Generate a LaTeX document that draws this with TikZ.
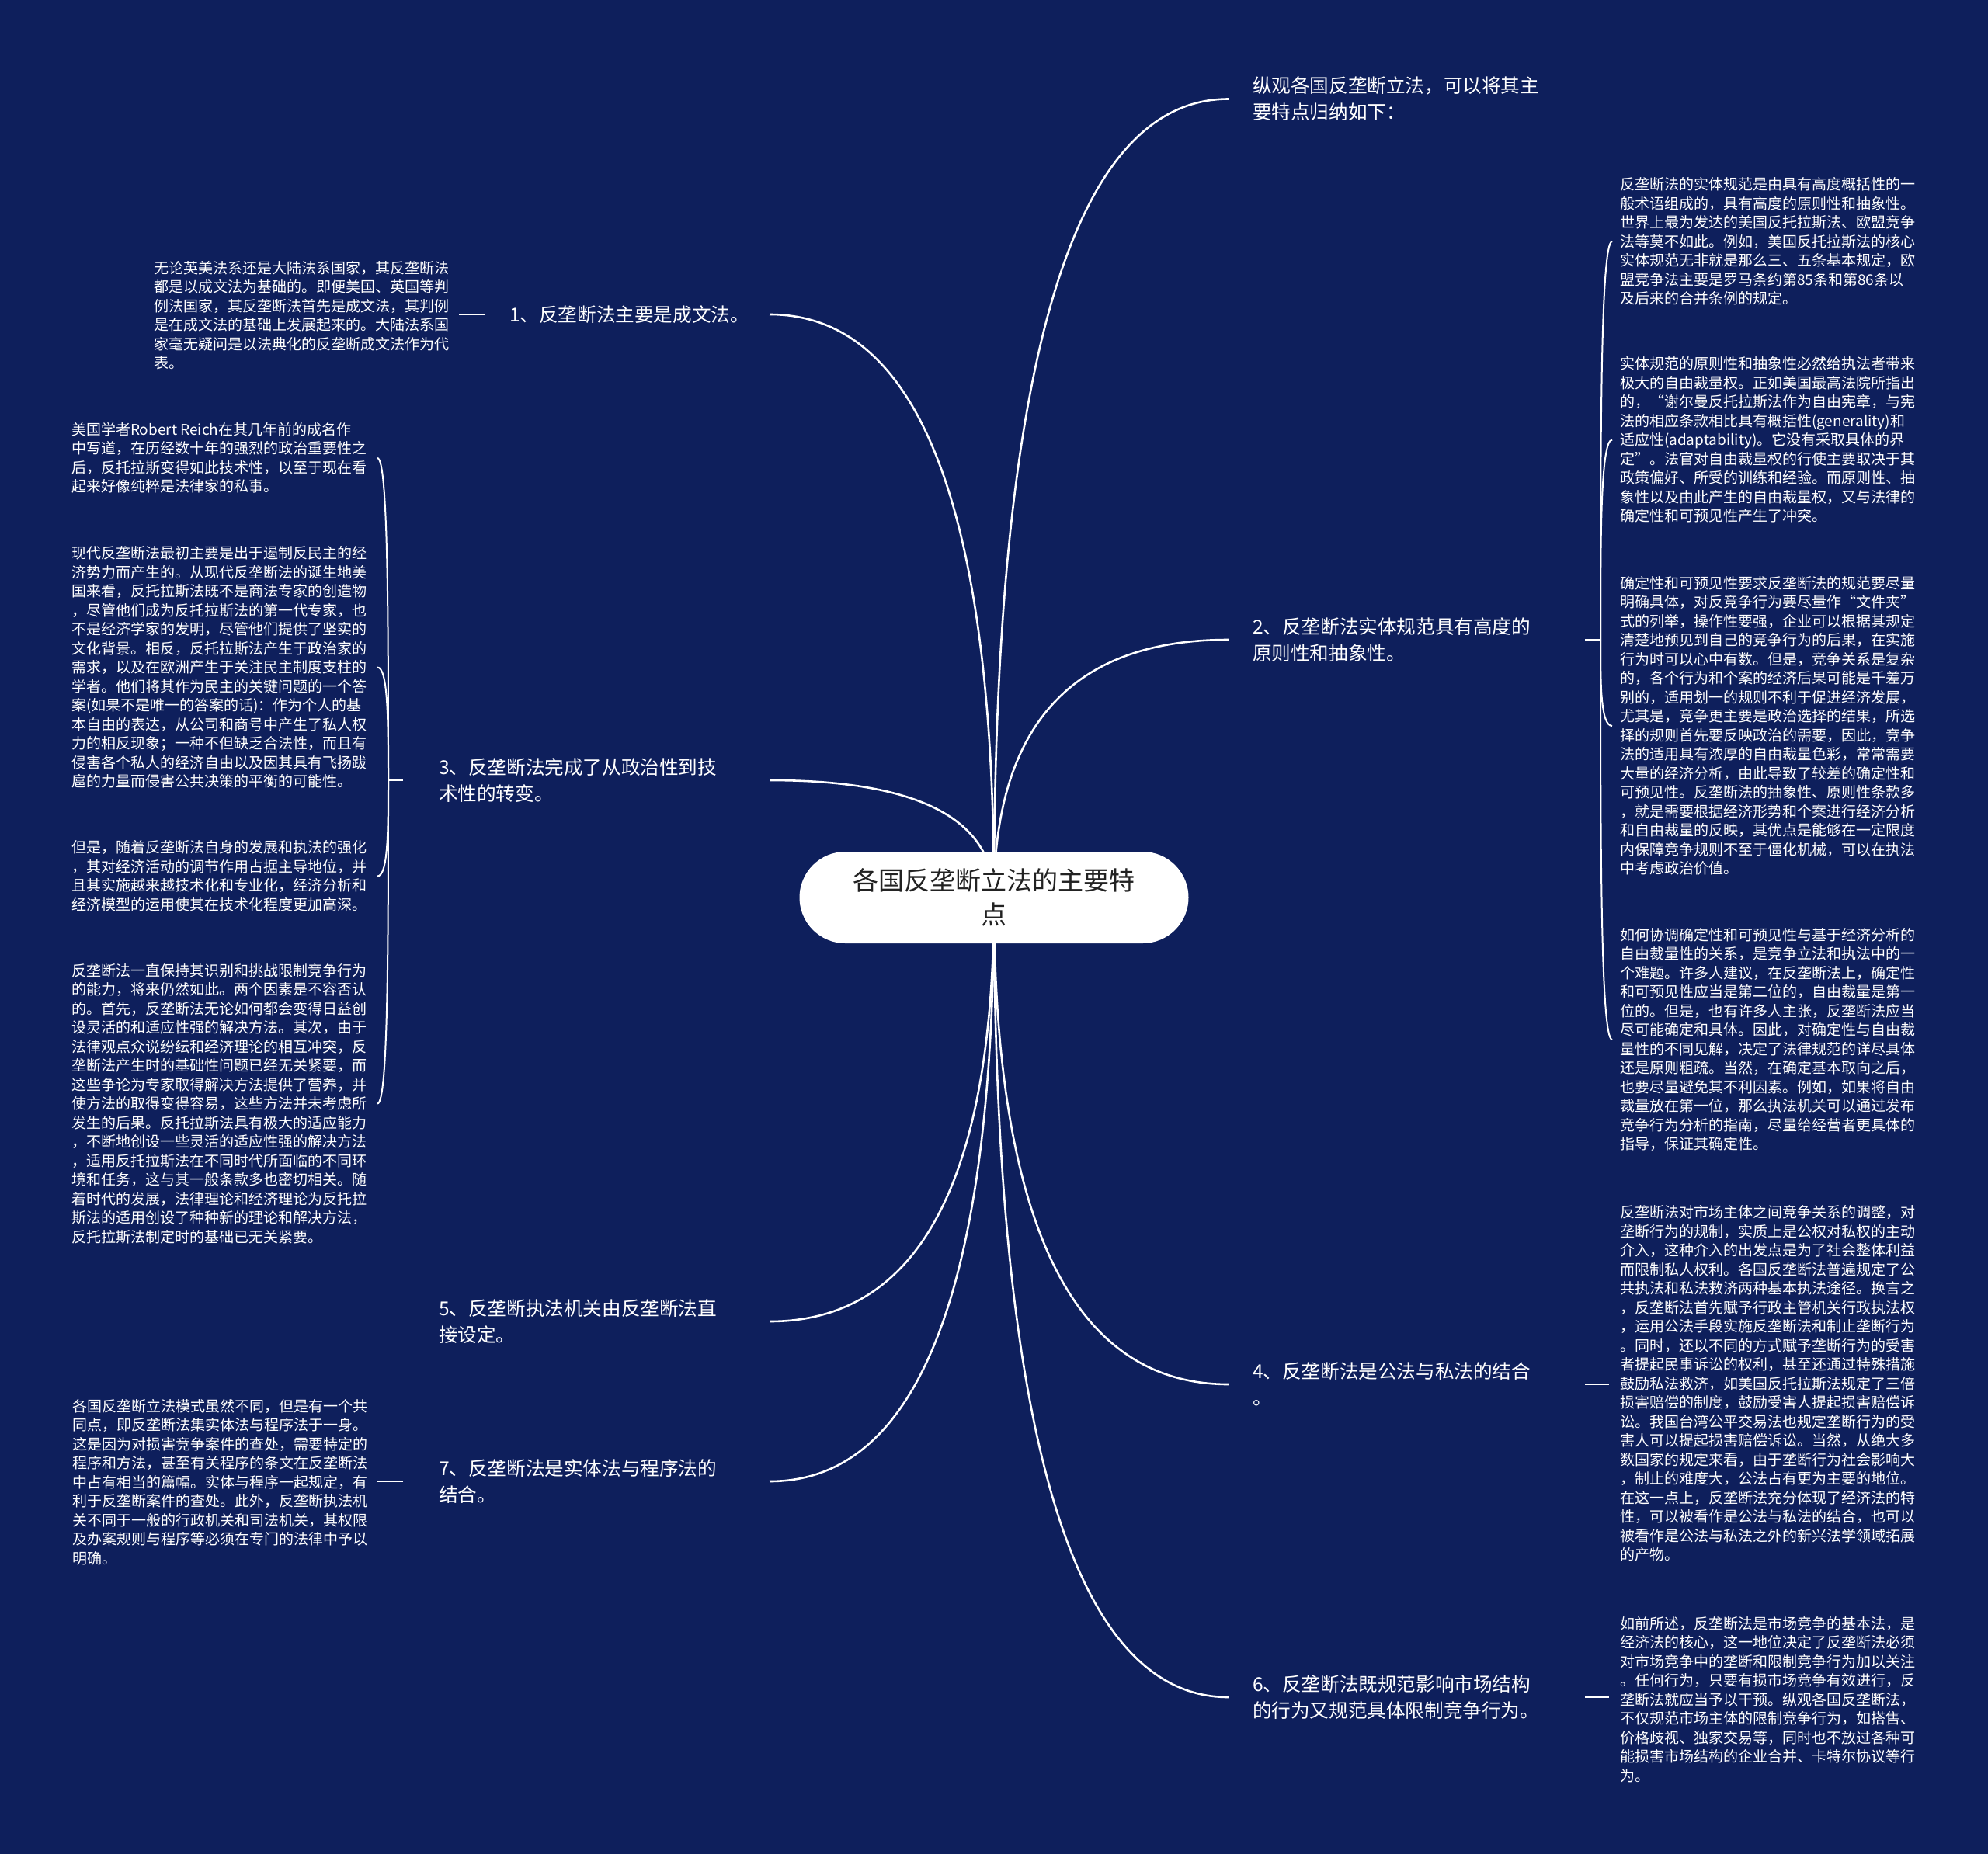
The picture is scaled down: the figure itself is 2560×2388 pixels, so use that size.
\documentclass[tikz,border=0pt]{standalone}
\usepackage{fontspec}
\setmainfont{Noto Sans CJK SC}
\usetikzlibrary{calc}
\definecolor{bgnavy}{RGB}{14,31,92}
\definecolor{ctrtext}{RGB}{34,34,34}
\tikzset{
  detail/.style={anchor=west, align=left, inner sep=0pt, outer sep=0pt, text=white, font=\fontsize{9.5}{12.25}\selectfont},
  topic/.style={anchor=west, align=left, inner sep=0pt, outer sep=0pt, text=white, font=\fontsize{12.3}{17}\selectfont},
  rootnode/.style={fill=white, rounded corners=29.5pt, minimum width=250.5pt, minimum height=59pt, align=center, text=ctrtext, font=\fontsize{16.5}{22}\selectfont},
  link/.style={draw=white, line width=1.3pt},
  brace/.style={draw=white, line width=1pt},
  mainlink/.style={to path={.. controls ($(\tikztostart)!0.667!(\tikztostart|-\tikztotarget)$) and ($(\tikztotarget)!0.667!(\tikztostart|-\tikztotarget)$) .. (\tikztotarget)}},
  bracelink/.style={to path={.. controls ($(\tikztostart)!0.5!(\tikztostart|-\tikztotarget)$) and (\tikztostart|-\tikztotarget) .. (\tikztotarget)}}
}
\begin{document}
\begin{tikzpicture}[x=0.5pt,y=-0.5pt]
\useasboundingbox (0,0) rectangle (2560,2388);
\fill[bgnavy] (0,0) rectangle (2560,2388);

% centre and connector end points
\coordinate (ctr) at (1280,1156);
\coordinate (r0e) at (1582,127.5);
\coordinate (r2e) at (1582,824);
\coordinate (r4e) at (1582,1783);
\coordinate (r6e) at (1582,2186);
\coordinate (l1e) at (991,405);
\coordinate (l3e) at (991,1005);
\coordinate (l5e) at (991,1702);
\coordinate (l7e) at (991,1908);

\coordinate (r2a) at (2041,824);  \coordinate (r2j) at (2061,824);
\coordinate (r4a) at (2041,1783); \coordinate (r4b) at (2072,1783);
\coordinate (r6a) at (2041,2186); \coordinate (r6b) at (2072,2186);
\coordinate (l1a) at (625,405);   \coordinate (l1b) at (591,405);
\coordinate (l3a) at (519,1005);  \coordinate (l3j) at (500,1005);
\coordinate (l7a) at (519,1908);  \coordinate (l7b) at (485,1908);

\coordinate (d1k) at (2076,311);
\coordinate (d2k) at (2076,566.5);
\coordinate (d3k) at (2076,935);
\coordinate (d4k) at (2076,1339);
\coordinate (c1k) at (486,590);
\coordinate (c2k) at (486,859.5);
\coordinate (c3k) at (486,1128.5);
\coordinate (c4k) at (486,1421.5);

% main curves
\foreach \e in {r0e,r2e,r4e,r6e,l1e,l3e,l5e,l7e}
  \draw[link] (ctr) to[mainlink] (\e);

% short lines
\draw[brace] (r2a) -- (r2j);
\draw[brace] (r4a) -- (r4b);
\draw[brace] (r6a) -- (r6b);
\draw[brace] (l1a) -- (l1b);
\draw[brace] (l3a) -- (l3j);
\draw[brace] (l7a) -- (l7b);

% braces
\foreach \e in {d1k,d2k,d3k,d4k}
  \draw[brace] (r2j) to[bracelink] (\e);
\foreach \e in {c1k,c2k,c3k,c4k}
  \draw[brace] (l3j) to[bracelink] (\e);

% root
\node[rootnode] (root) at (ctr) {各国反垄断立法的主要特\\点};

% topics
\node[topic] (r0) at (1613,127.5) {纵观各国反垄断立法，可以将其主\\要特点归纳如下：};
\node[topic] (r2) at (1613,824) {2、反垄断法实体规范具有高度的\\原则性和抽象性。};
\node[topic] (r4) at (1613,1783) {4、反垄断法是公法与私法的结合\\。};
\node[topic] (r6) at (1613,2186) {6、反垄断法既规范影响市场结构\\的行为又规范具体限制竞争行为。};
\node[topic] (l1) at (656,405) {1、反垄断法主要是成文法。};
\node[topic] (l3) at (565,1005) {3、反垄断法完成了从政治性到技\\术性的转变。};
\node[topic] (l5) at (565,1702) {5、反垄断执法机关由反垄断法直\\接设定。};
\node[topic] (l7) at (565,1908) {7、反垄断法是实体法与程序法的\\结合。};

% right details
\node[detail] (d1) at (2086,311) {反垄断法的实体规范是由具有高度概括性的一\\般术语组成的，具有高度的原则性和抽象性。\\世界上最为发达的美国反托拉斯法、欧盟竞争\\法等莫不如此。例如，美国反托拉斯法的核心\\实体规范无非就是那么三、五条基本规定，欧\\盟竞争法主要是罗马条约第85条和第86条以\\及后来的合并条例的规定。};
\node[detail] (d2) at (2086,566.5) {实体规范的原则性和抽象性必然给执法者带来\\极大的自由裁量权。正如美国最高法院所指出\\的，“谢尔曼反托拉斯法作为自由宪章，与宪\\法的相应条款相比具有概括性(generality)和\\适应性(adaptability)。它没有采取具体的界\\定”。法官对自由裁量权的行使主要取决于其\\政策偏好、所受的训练和经验。而原则性、抽\\象性以及由此产生的自由裁量权，又与法律的\\确定性和可预见性产生了冲突。};
\node[detail] (d3) at (2086,935) {确定性和可预见性要求反垄断法的规范要尽量\\明确具体，对反竞争行为要尽量作“文件夹”\\式的列举，操作性要强，企业可以根据其规定\\清楚地预见到自己的竞争行为的后果，在实施\\行为时可以心中有数。但是，竞争关系是复杂\\的，各个行为和个案的经济后果可能是千差万\\别的，适用划一的规则不利于促进经济发展，\\尤其是，竞争更主要是政治选择的结果，所选\\择的规则首先要反映政治的需要，因此，竞争\\法的适用具有浓厚的自由裁量色彩，常常需要\\大量的经济分析，由此导致了较差的确定性和\\可预见性。反垄断法的抽象性、原则性条款多\\，就是需要根据经济形势和个案进行经济分析\\和自由裁量的反映，其优点是能够在一定限度\\内保障竞争规则不至于僵化机械，可以在执法\\中考虑政治价值。};
\node[detail] (d4) at (2086,1339) {如何协调确定性和可预见性与基于经济分析的\\自由裁量性的关系，是竞争立法和执法中的一\\个难题。许多人建议，在反垄断法上，确定性\\和可预见性应当是第二位的，自由裁量是第一\\位的。但是，也有许多人主张，反垄断法应当\\尽可能确定和具体。因此，对确定性与自由裁\\量性的不同见解，决定了法律规范的详尽具体\\还是原则粗疏。当然，在确定基本取向之后，\\也要尽量避免其不利因素。例如，如果将自由\\裁量放在第一位，那么执法机关可以通过发布\\竞争行为分析的指南，尽量给经营者更具体的\\指导，保证其确定性。};
\node[detail] (d5) at (2086,1782) {反垄断法对市场主体之间竞争关系的调整，对\\垄断行为的规制，实质上是公权对私权的主动\\介入，这种介入的出发点是为了社会整体利益\\而限制私人权利。各国反垄断法普遍规定了公\\共执法和私法救济两种基本执法途径。换言之\\，反垄断法首先赋予行政主管机关行政执法权\\，运用公法手段实施反垄断法和制止垄断行为\\。同时，还以不同的方式赋予垄断行为的受害\\者提起民事诉讼的权利，甚至还通过特殊措施\\鼓励私法救济，如美国反托拉斯法规定了三倍\\损害赔偿的制度，鼓励受害人提起损害赔偿诉\\讼。我国台湾公平交易法也规定垄断行为的受\\害人可以提起损害赔偿诉讼。当然，从绝大多\\数国家的规定来看，由于垄断行为社会影响大\\，制止的难度大，公法占有更为主要的地位。\\在这一点上，反垄断法充分体现了经济法的特\\性，可以被看作是公法与私法的结合，也可以\\被看作是公法与私法之外的新兴法学领域拓展\\的产物。};
\node[detail] (d6) at (2086,2189) {如前所述，反垄断法是市场竞争的基本法，是\\经济法的核心，这一地位决定了反垄断法必须\\对市场竞争中的垄断和限制竞争行为加以关注\\。任何行为，只要有损市场竞争有效进行，反\\垄断法就应当予以干预。纵观各国反垄断法，\\不仅规范市场主体的限制竞争行为，如搭售、\\价格歧视、独家交易等，同时也不放过各种可\\能损害市场结构的企业合并、卡特尔协议等行\\为。};

% left details
\node[detail] (l1d) at (198,406) {无论英美法系还是大陆法系国家，其反垄断法\\都是以成文法为基础的。即便美国、英国等判\\例法国家，其反垄断法首先是成文法，其判例\\是在成文法的基础上发展起来的。大陆法系国\\家毫无疑问是以法典化的反垄断成文法作为代\\表。};
\node[detail] (c1) at (92,590) {美国学者Robert Reich在其几年前的成名作\\中写道，在历经数十年的强烈的政治重要性之\\后，反托拉斯变得如此技术性，以至于现在看\\起来好像纯粹是法律家的私事。};
\node[detail] (c2) at (92,859.5) {现代反垄断法最初主要是出于遏制反民主的经\\济势力而产生的。从现代反垄断法的诞生地美\\国来看，反托拉斯法既不是商法专家的创造物\\，尽管他们成为反托拉斯法的第一代专家，也\\不是经济学家的发明，尽管他们提供了坚实的\\文化背景。相反，反托拉斯法产生于政治家的\\需求，以及在欧洲产生于关注民主制度支柱的\\学者。他们将其作为民主的关键问题的一个答\\案(如果不是唯一的答案的话)：作为个人的基\\本自由的表达，从公司和商号中产生了私人权\\力的相反现象；一种不但缺乏合法性，而且有\\侵害各个私人的经济自由以及因其具有飞扬跋\\扈的力量而侵害公共决策的平衡的可能性。};
\node[detail] (c3) at (92,1128.5) {但是，随着反垄断法自身的发展和执法的强化\\，其对经济活动的调节作用占据主导地位，并\\且其实施越来越技术化和专业化，经济分析和\\经济模型的运用使其在技术化程度更加高深。};
\node[detail] (c4) at (92,1421.5) {反垄断法一直保持其识别和挑战限制竞争行为\\的能力，将来仍然如此。两个因素是不容否认\\的。首先，反垄断法无论如何都会变得日益创\\设灵活的和适应性强的解决方法。其次，由于\\法律观点众说纷纭和经济理论的相互冲突，反\\垄断法产生时的基础性问题已经无关紧要，而\\这些争论为专家取得解决方法提供了营养，并\\使方法的取得变得容易，这些方法并未考虑所\\发生的后果。反托拉斯法具有极大的适应能力\\，不断地创设一些灵活的适应性强的解决方法\\，适用反托拉斯法在不同时代所面临的不同环\\境和任务，这与其一般条款多也密切相关。随\\着时代的发展，法律理论和经济理论为反托拉\\斯法的适用创设了种种新的理论和解决方法，\\反托拉斯法制定时的基础已无关紧要。};
\node[detail] (l7d) at (93,1909) {各国反垄断立法模式虽然不同，但是有一个共\\同点，即反垄断法集实体法与程序法于一身。\\这是因为对损害竞争案件的查处，需要特定的\\程序和方法，甚至有关程序的条文在反垄断法\\中占有相当的篇幅。实体与程序一起规定，有\\利于反垄断案件的查处。此外，反垄断执法机\\关不同于一般的行政机关和司法机关，其权限\\及办案规则与程序等必须在专门的法律中予以\\明确。};
\end{tikzpicture}
\end{document}
